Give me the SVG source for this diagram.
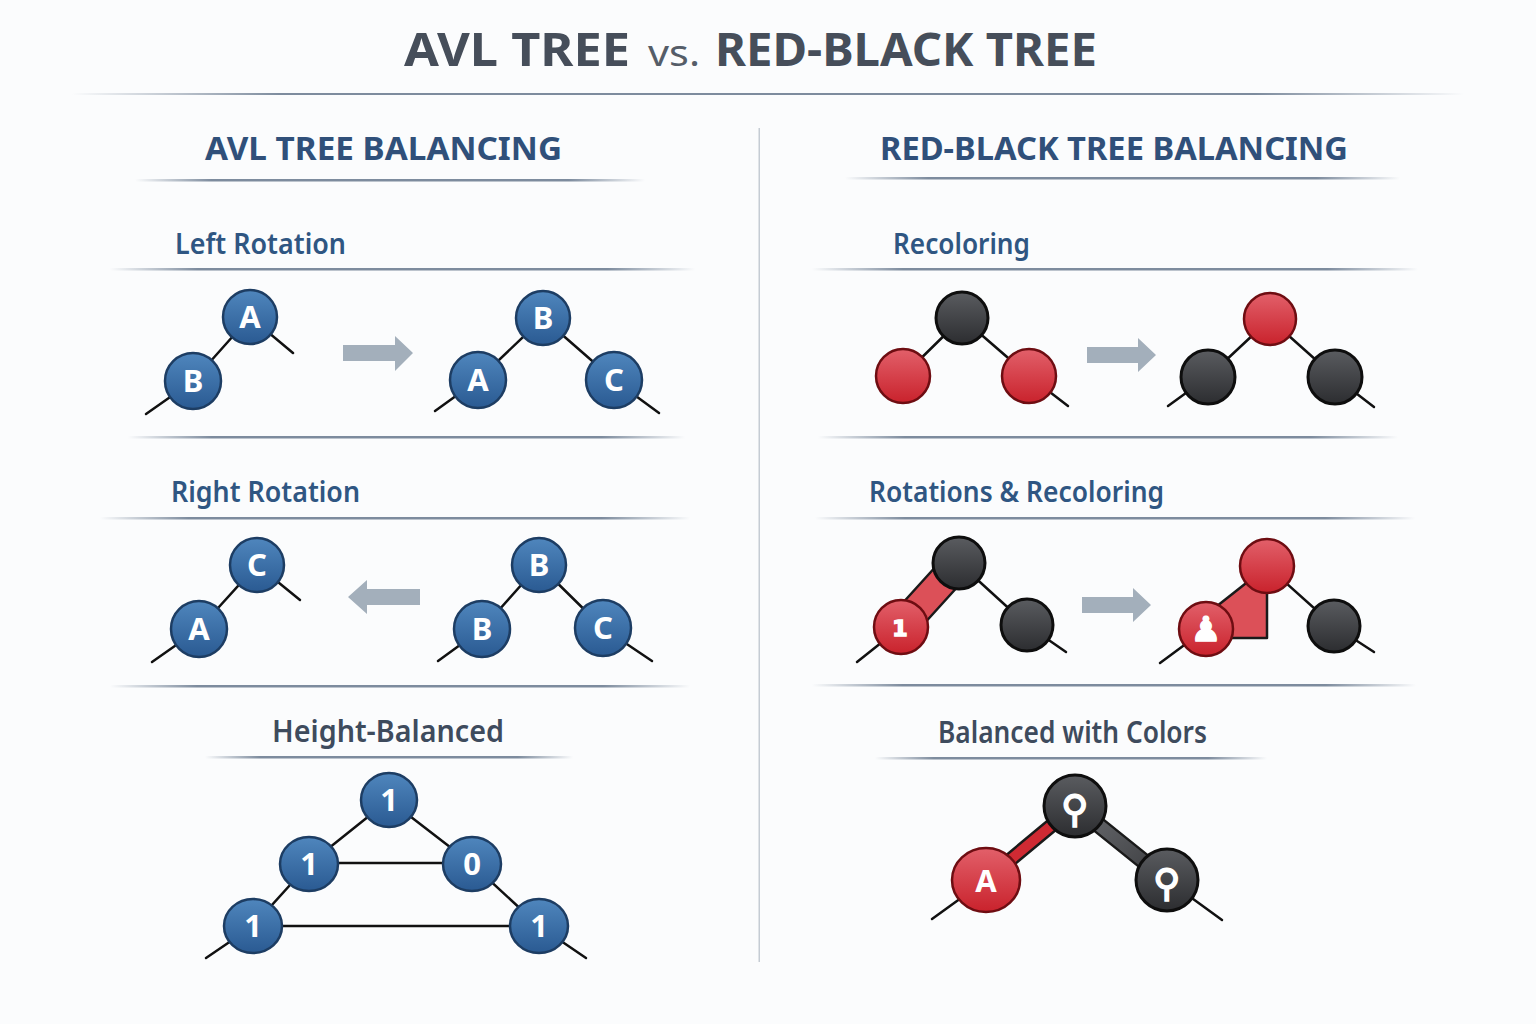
<svg xmlns="http://www.w3.org/2000/svg" width="1536" height="1024" viewBox="0 0 1536 1024">
<defs>
<linearGradient id="rule" x1="0" y1="0" x2="1" y2="0">
<stop offset="0" stop-color="#6f7f93" stop-opacity="0"/>
<stop offset="0.15" stop-color="#6f7f93" stop-opacity="0.9"/>
<stop offset="0.85" stop-color="#6f7f93" stop-opacity="0.9"/>
<stop offset="1" stop-color="#6f7f93" stop-opacity="0"/>
</linearGradient>
<linearGradient id="blue" x1="0" y1="0" x2="0" y2="1">
<stop offset="0" stop-color="#4f86bd"/>
<stop offset="1" stop-color="#2a5a92"/>
</linearGradient>
<linearGradient id="red" x1="0" y1="0" x2="0" y2="1">
<stop offset="0" stop-color="#e2606a"/>
<stop offset="1" stop-color="#c9222c"/>
</linearGradient>
<linearGradient id="blk" x1="0" y1="0" x2="0" y2="1">
<stop offset="0" stop-color="#5a5c60"/>
<stop offset="1" stop-color="#2c2d30"/>
</linearGradient>
<linearGradient id="bar" x1="0" y1="0" x2="1" y2="1">
<stop offset="0" stop-color="#6a6c70"/>
<stop offset="1" stop-color="#3a3b3e"/>
</linearGradient>
</defs>
<style>
.title{font-family:"Noto Sans","Open Sans","Liberation Sans",sans-serif;font-weight:700;fill:#464e5a;font-size:46px}
.vs{font-family:"Noto Sans","Open Sans","Liberation Sans",sans-serif;font-weight:400;fill:#555d68;font-size:36px}
.h1{font-family:"Noto Sans","Open Sans","Liberation Sans",sans-serif;font-weight:700;fill:#30507a;font-size:32px}
.h2{font-family:"Noto Sans","Open Sans","Liberation Sans",sans-serif;font-weight:600;fill:#2f5682;font-size:29px}
.h3{font-family:"Noto Sans","Open Sans","Liberation Sans",sans-serif;font-weight:600;fill:#3e4b5d;font-size:30px}
.nb{fill:url(#blue);stroke:#1d3d63;stroke-width:2.5}
.nr{fill:url(#red);stroke:#6e0d12;stroke-width:2.5}
.nk{fill:url(#blk);stroke:#0e0e0e;stroke-width:3}
.lbl{font-family:"Noto Sans","Open Sans","DejaVu Sans",sans-serif;font-weight:700;fill:#ffffff;font-size:31px;text-anchor:middle}
.sym{font-family:"DejaVu Sans",sans-serif;font-weight:700;fill:#ffffff;stroke:#ffffff;stroke-width:1.5;text-anchor:middle}
.e{stroke:#111;stroke-width:2.5;fill:none;stroke-linecap:round}
.arr{fill:#a3afbb}
.rule{fill:url(#rule)}
</style>
<rect width="1536" height="1024" fill="#fbfcfd"/>

<g id="headings">
<text class="title" x="404" y="66" textLength="226" lengthAdjust="spacingAndGlyphs">AVL TREE</text>
<text class="vs" x="648" y="66" textLength="52" lengthAdjust="spacingAndGlyphs">vs.</text>
<text class="title" x="715" y="66" textLength="382" lengthAdjust="spacingAndGlyphs">RED-BLACK TREE</text>
<rect class="rule" x="72" y="93" width="1392" height="2"/>
<rect x="758.5" y="128" width="1.5" height="834" fill="#c5ccd4"/>

<text class="h1" x="205" y="160" textLength="357" lengthAdjust="spacingAndGlyphs">AVL TREE BALANCING</text>
<rect class="rule" x="135" y="179" width="510" height="2.5"/>
<text class="h1" x="880" y="160" textLength="468" lengthAdjust="spacingAndGlyphs">RED-BLACK TREE BALANCING</text>
<rect class="rule" x="845" y="177" width="555" height="2.5"/>

<text class="h2" x="175" y="254" textLength="171" lengthAdjust="spacingAndGlyphs">Left Rotation</text>
<rect class="rule" x="110" y="268" width="585" height="2.5"/>
<text class="h2" x="893" y="254" textLength="137" lengthAdjust="spacingAndGlyphs">Recoloring</text>
<rect class="rule" x="812" y="268" width="606" height="2.5"/>

<rect class="rule" x="128" y="436" width="557" height="2.5"/>
<rect class="rule" x="818" y="436" width="580" height="2.5"/>

<text class="h2" x="171" y="502" textLength="189" lengthAdjust="spacingAndGlyphs">Right Rotation</text>
<rect class="rule" x="100" y="517" width="590" height="2.5"/>
<text class="h2" x="869" y="502" textLength="295" lengthAdjust="spacingAndGlyphs">Rotations &amp; Recoloring</text>
<rect class="rule" x="815" y="517" width="600" height="2.5"/>

<rect class="rule" x="110" y="685" width="580" height="2.5"/>
<rect class="rule" x="812" y="684" width="604" height="2.5"/>

<text class="h3" x="272" y="742" textLength="232" lengthAdjust="spacingAndGlyphs">Height-Balanced</text>
<rect class="rule" x="205" y="756" width="368" height="2.5"/>
<text class="h3" x="938" y="743" textLength="269" lengthAdjust="spacingAndGlyphs">Balanced with Colors</text>
<rect class="rule" x="875" y="757" width="392" height="2.5"/>
</g>

<g id="connectors">
<line class="e" x1="250" y1="317" x2="193" y2="381"/>
<line class="e" x1="250" y1="317" x2="293" y2="353"/>
<line class="e" x1="193" y1="381" x2="146" y2="414"/>
<path class="arr" d="M343 345 H395 V336 L413 353 L395 371 V361 H343 Z"/>
<line class="e" x1="543" y1="318" x2="478" y2="380"/>
<line class="e" x1="543" y1="318" x2="614" y2="380"/>
<line class="e" x1="478" y1="380" x2="435" y2="411"/>
<line class="e" x1="614" y1="380" x2="659" y2="413"/>
<line class="e" x1="257" y1="565" x2="199" y2="629"/>
<line class="e" x1="257" y1="565" x2="300" y2="600"/>
<line class="e" x1="199" y1="629" x2="152" y2="662"/>
<path class="arr" d="M420 589 H367 V580 L348 597 L367 614 V605 H420 Z"/>
<line class="e" x1="539" y1="565" x2="482" y2="629"/>
<line class="e" x1="539" y1="565" x2="603" y2="628"/>
<line class="e" x1="482" y1="629" x2="438" y2="661"/>
<line class="e" x1="603" y1="628" x2="652" y2="661"/>
<line class="e" x1="389" y1="800" x2="309" y2="864"/>
<line class="e" x1="389" y1="800" x2="472" y2="864"/>
<line class="e" x1="309" y1="863" x2="472" y2="863"/>
<line class="e" x1="309" y1="864" x2="253" y2="926"/>
<line class="e" x1="472" y1="864" x2="539" y2="926"/>
<line class="e" x1="253" y1="926" x2="539" y2="926"/>
<line class="e" x1="253" y1="926" x2="206" y2="958"/>
<line class="e" x1="539" y1="926" x2="586" y2="958"/>
<line class="e" x1="962" y1="318" x2="903" y2="376"/>
<line class="e" x1="962" y1="318" x2="1029" y2="376"/>
<line class="e" x1="1029" y1="376" x2="1068" y2="406"/>
<path class="arr" d="M1087 347 H1138 V338 L1156 355 L1138 372 V363 H1087 Z"/>
<line class="e" x1="1270" y1="319" x2="1208" y2="377"/>
<line class="e" x1="1270" y1="319" x2="1335" y2="377"/>
<line class="e" x1="1208" y1="377" x2="1168" y2="406"/>
<line class="e" x1="1335" y1="377" x2="1374" y2="407"/>
<polygon points="890,617 948,553 970,573 912,637" fill="#dc5058" stroke="#1a1a1a" stroke-width="2.5" stroke-linejoin="round"/>
<line class="e" x1="959" y1="563" x2="1027" y2="625"/>
<line class="e" x1="901" y1="627" x2="857" y2="662"/>
<line class="e" x1="1027" y1="625" x2="1066" y2="652"/>
<path class="arr" d="M1082 597 H1133 V588 L1151 605 L1133 622 V613 H1082 Z"/>
<polygon points="1212,610 1250,580 1267,580 1267,638 1230,638" fill="#dc5058" stroke="#1a1a1a" stroke-width="2.5" stroke-linejoin="round"/>
<line class="e" x1="1267" y1="566" x2="1334" y2="626"/>
<line class="e" x1="1206" y1="629" x2="1160" y2="663"/>
<line class="e" x1="1334" y1="626" x2="1374" y2="652"/>
<line x1="986" y1="880" x2="1075" y2="806" stroke="#1a1a1a" stroke-width="15" stroke-linecap="round"/>
<line x1="986" y1="880" x2="1075" y2="806" stroke="#cf2a33" stroke-width="10" stroke-linecap="round"/>
<line x1="1075" y1="806" x2="1167" y2="880" stroke="#1a1a1a" stroke-width="17" stroke-linecap="round"/>
<line x1="1075" y1="806" x2="1167" y2="880" stroke="url(#bar)" stroke-width="12" stroke-linecap="round"/>
<line class="e" x1="986" y1="880" x2="932" y2="919"/>
<line class="e" x1="1167" y1="880" x2="1222" y2="920"/>
</g>

<g id="avl-left-before">
<g id="lr-a1"><circle class="nb" cx="250" cy="317" r="27"/><text class="lbl" x="250" y="328">A</text></g>
<g id="lr-b1"><circle class="nb" cx="193" cy="381" r="28"/><text class="lbl" x="193" y="392">B</text></g>
</g>
<g id="avl-left-after">
<g id="lr-b2"><circle class="nb" cx="543" cy="318" r="27"/><text class="lbl" x="543" y="329">B</text></g>
<g id="lr-a2"><circle class="nb" cx="478" cy="380" r="28"/><text class="lbl" x="478" y="391">A</text></g>
<g id="lr-c2"><circle class="nb" cx="614" cy="380" r="28"/><text class="lbl" x="614" y="391">C</text></g>
</g>
<g id="avl-right-after">
<g id="rr-c1"><circle class="nb" cx="257" cy="565" r="27"/><text class="lbl" x="257" y="576">C</text></g>
<g id="rr-a1"><circle class="nb" cx="199" cy="629" r="28"/><text class="lbl" x="199" y="640">A</text></g>
</g>
<g id="avl-right-before">
<g id="rr-b2"><circle class="nb" cx="539" cy="565" r="27"/><text class="lbl" x="539" y="576">B</text></g>
<g id="rr-b3"><circle class="nb" cx="482" cy="629" r="28"/><text class="lbl" x="482" y="640">B</text></g>
<g id="rr-c2"><circle class="nb" cx="603" cy="628" r="28"/><text class="lbl" x="603" y="639">C</text></g>
</g>
<g id="avl-height">
<g id="hb-root"><ellipse class="nb" cx="389" cy="800" rx="28" ry="27"/><text class="lbl" x="389" y="811">1</text></g>
<g id="hb-l"><ellipse class="nb" cx="309" cy="864" rx="29" ry="27"/><text class="lbl" x="309" y="875">1</text></g>
<g id="hb-r"><ellipse class="nb" cx="472" cy="864" rx="29" ry="27"/><text class="lbl" x="472" y="875">0</text></g>
<g id="hb-ll"><ellipse class="nb" cx="253" cy="926" rx="29" ry="27"/><text class="lbl" x="253" y="937">1</text></g>
<g id="hb-rr"><ellipse class="nb" cx="539" cy="926" rx="29" ry="27"/><text class="lbl" x="539" y="937">1</text></g>
</g>

<g id="rb-recolor-before">
<g id="rc-k1"><circle class="nk" cx="962" cy="318" r="26"/></g>
<g id="rc-r1"><circle class="nr" cx="903" cy="376" r="27"/></g>
<g id="rc-r2"><circle class="nr" cx="1029" cy="376" r="27"/></g>
</g>
<g id="rb-recolor-after">
<g id="rc-r3"><circle class="nr" cx="1270" cy="319" r="26"/></g>
<g id="rc-k2"><circle class="nk" cx="1208" cy="377" r="27"/></g>
<g id="rc-k3"><circle class="nk" cx="1335" cy="377" r="27"/></g>
</g>
<g id="rb-rot-before">
<g id="ro-k1"><circle class="nk" cx="959" cy="563" r="26"/></g>
<g id="ro-r1"><circle class="nr" cx="901" cy="627" r="27"/><text class="sym" x="900" y="636" font-size="22" stroke-width="0.5">1</text></g>
<g id="ro-k2"><circle class="nk" cx="1027" cy="625" r="26"/></g>
</g>
<g id="rb-rot-after">
<g id="ro-r2"><circle class="nr" cx="1267" cy="566" r="27"/></g>
<g id="ro-r3"><circle class="nr" cx="1206" cy="629" r="27"/><text class="sym" x="1206" y="641" font-size="34" stroke-width="0.5">♟</text></g>
<g id="ro-k3"><circle class="nk" cx="1334" cy="626" r="26"/></g>
</g>
<g id="rb-balanced">
<g id="bc-root"><circle class="nk" cx="1075" cy="806" r="31"/><text class="sym" x="1075" y="822" font-size="38">⚲</text></g>
<g id="bc-a"><ellipse class="nr" cx="986" cy="880" rx="34" ry="32"/><text class="lbl" x="986" y="892">A</text></g>
<g id="bc-r"><circle class="nk" cx="1167" cy="880" r="31"/><text class="sym" x="1167" y="896" font-size="38">⚲</text></g>
</g>
</svg>
